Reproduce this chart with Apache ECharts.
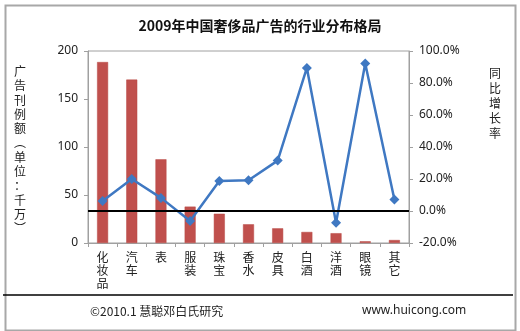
<!DOCTYPE html>
<html><head><meta charset="utf-8">
<script src="https://cdn.jsdelivr.net/npm/echarts@6/dist/echarts.min.js"></script>
<style>html,body{margin:0;padding:0;background:#fff}#c{width:520px;height:331px}</style>
</head><body><div id="c"></div>
<script>
const categories = ['化妆品','汽车','表','服装','珠宝','香水','皮具','白酒','洋酒','眼镜','其它'];
const adValues = [188.5, 170.2, 87.2, 37.9, 30.5, 19.5, 15.3, 11.5, 10.2, 1.8, 3.1];
const growthValues = [6.2, 20.0, 8.2, -6.3, 18.7, 19.2, 31.5, 89.4, -7.4, 92.2, 7.2];
const leftTicks = {min: 0, max: 200, interval: 50};
const rightTicks = {min: -20, max: 100, interval: 20};
const titleText = '2009年中国奢侈品广告的行业分布格局';
const leftAxisTitle = ['广','告','刊','例','额','︵','单','位','：','千','万','︶'];
const rightAxisTitle = ['同','比','增','长','率'];
const footerLeft = '©2010.1 慧聪邓白氏研究';
const footerRight = 'www.huicong.com';

const FONT = '"Noto Sans", "Noto Sans CJK SC", sans-serif';
const CJK = '"Noto Sans CJK SC", sans-serif';
const chart = echarts.init(document.getElementById('c'));
chart.setOption({
  backgroundColor: '#fff',
  animation: false,
  title: {
    text: titleText, left: 'center', top: 14,
    textStyle: {fontFamily: CJK, fontSize: 14, fontWeight: 'bold', color: '#111'}
  },
  grid: {left: 88, right: 111, top: 51, bottom: 88, show: true, borderColor: '#a0a0a0', borderWidth: 1, backgroundColor: '#fff'},
  xAxis: {
    type: 'category', data: categories,
    axisLine: {lineStyle: {color: '#a0a0a0'}},
    axisTick: {show: true, length: 4, lineStyle: {color: '#a0a0a0'}},
    axisLabel: {
      interval: 0, margin: 8, color: '#222', fontFamily: CJK, fontSize: 12, lineHeight: 13,
      formatter: v => v.split('').join('\n')
    }
  },
  yAxis: [
    {
      type: 'value', min: leftTicks.min, max: leftTicks.max, interval: leftTicks.interval,
      splitLine: {show: false},
      axisLine: {show: true, lineStyle: {color: '#a0a0a0'}},
      axisTick: {show: true, length: 4, lineStyle: {color: '#a0a0a0'}},
      axisLabel: {color: '#222', fontFamily: FONT, fontSize: 12, margin: 10}
    },
    {
      type: 'value', position: 'right', min: rightTicks.min, max: rightTicks.max, interval: rightTicks.interval,
      splitLine: {show: false},
      axisLine: {show: true, lineStyle: {color: '#a0a0a0'}},
      axisTick: {show: true, length: 4, lineStyle: {color: '#a0a0a0'}},
      axisLabel: {color: '#222', fontFamily: FONT, fontSize: 12, margin: 10, formatter: v => v.toFixed(1) + '%'}
    }
  ],
  series: [
    {
      type: 'bar', data: adValues, yAxisIndex: 0, barWidth: 11,
      itemStyle: {color: '#C0504D', borderColor: '#b84a47', borderWidth: 0.5}
    },
    {
      type: 'line', data: growthValues, yAxisIndex: 1,
      symbol: 'diamond', symbolSize: 10,
      lineStyle: {color: '#3f78c2', width: 2.5},
      itemStyle: {color: '#3f78c2'},
      markLine: {
        silent: true, symbol: 'none', label: {show: false},
        lineStyle: {color: '#000', width: 1.8, type: 'solid'},
        data: [{yAxis: 0}]
      }
    }
  ],
  graphic: [
    {type: 'rect', left: 3, top: 3, shape: {width: 510, height: 325}, style: {fill: 'none', stroke: '#a8a8a8', lineWidth: 2}, z: 10},
    {type: 'line', shape: {x1: 3, y1: 295, x2: 513, y2: 295}, style: {stroke: '#000', lineWidth: 1.5}, z: 10},
    {type: 'text', x: 20, y: 150, style: {text: leftAxisTitle.join('\n'), fontFamily: CJK, fontSize: 12, lineHeight: 14.3, fill: '#222', align: 'center', verticalAlign: 'middle'}},
    {type: 'text', x: 495, y: 103, style: {text: rightAxisTitle.join('\n'), fontFamily: CJK, fontSize: 12, lineHeight: 15, fill: '#222', align: 'center', verticalAlign: 'middle'}},
    {type: 'text', x: 90, y: 311, style: {text: footerLeft, fontFamily: CJK, fontSize: 12, fill: '#222', align: 'left', verticalAlign: 'middle'}},
    {type: 'text', x: 362, y: 311, style: {text: footerRight, fontFamily: FONT, fontSize: 12, fill: '#222', align: 'left', verticalAlign: 'middle'}}
  ]
});
</script></body></html>
